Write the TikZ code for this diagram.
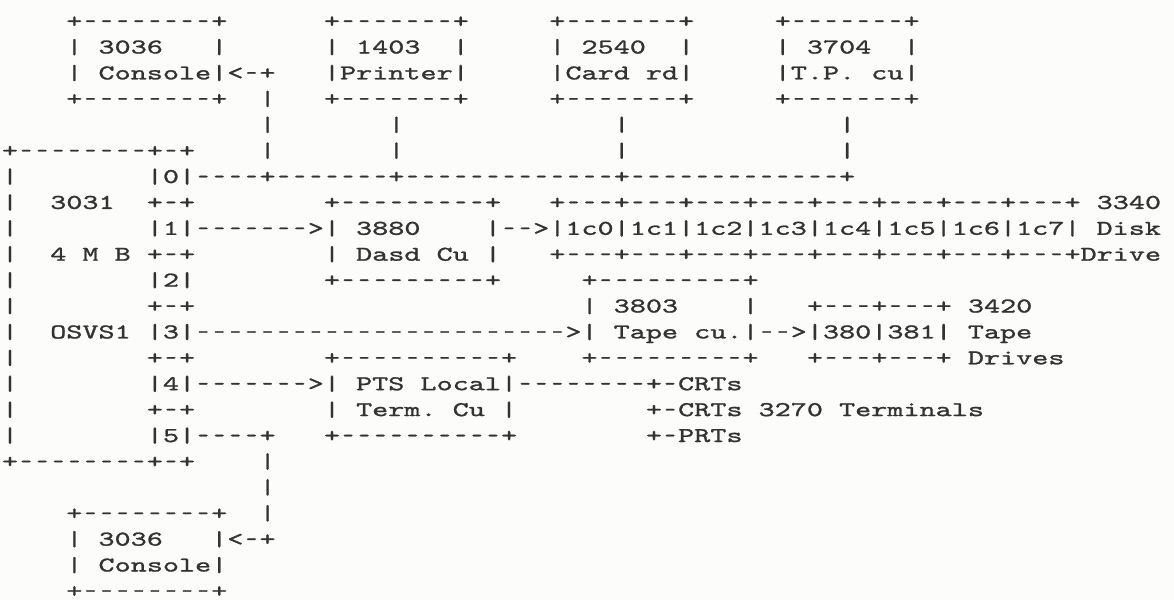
\documentclass[tikz,border=0pt]{standalone}
\usepackage{fontspec}
\newfontfamily\asciifont{lmmono10-regular.otf}[Ligatures=TeXOff,FakeStretch=1.46,FakeBold=1.2]
\newfontfamily\dashfont{lmmono10-regular.otf}[Ligatures=TeXOff,FakeBold=1.2]
\newcommand\dcell{\makebox[16.1pt][c]{\dashfont-}}
\ExplSyntaxOn
\cs_new:Npn \D #1 { \prg_replicate:nn {#1} { \dcell } }
\ExplSyntaxOff
\definecolor{ink}{HTML}{333333}
\definecolor{paper}{HTML}{FCFCFA}
\tikzset{asc/.style={anchor=base west, inner sep=0pt, outer sep=0pt, text=ink,
  font=\fontsize{21}{25}\selectfont\asciifont, yshift=-6.6pt}}
\newcommand\asc[4]{\node[asc] (#1) at ({#3-0.5},#2) {#4};}
\begin{document}
\begin{tikzpicture}
\fill[paper] (0pt,0pt) rectangle (1174pt,-600pt);
\useasboundingbox (0pt,0pt) rectangle (1174pt,-600pt);
\begin{scope}[shift={(10pt,-21pt)}, x=16.1pt, y=-25.9pt]
% row 0
\asc{cAa}{0}{4}{+\D{8}+}
\asc{pAa}{0}{20}{+\D{7}+}
\asc{kAa}{0}{34}{+\D{7}+}
\asc{tAa}{0}{48}{+\D{7}+}
% row 1
\asc{cAb}{1}{4}{|~3036~~~|}
\asc{pAb}{1}{20}{|~1403~~|}
\asc{kAb}{1}{34}{|~2540~~|}
\asc{tAb}{1}{48}{|~3704~~|}
% row 2
\asc{cAc}{2}{4}{|~Console|<\D{1}+}
\asc{pAc}{2}{20}{|Printer|}
\asc{kAc}{2}{34}{|Card~rd|}
\asc{tAc}{2}{48}{|T.P.~cu|}
% row 3
\asc{cAd}{3}{4}{+\D{8}+}
\asc{vAd}{3}{16}{|}
\asc{pAd}{3}{20}{+\D{7}+}
\asc{kAd}{3}{34}{+\D{7}+}
\asc{tAd}{3}{48}{+\D{7}+}
% row 4
\asc{vAe}{4}{16}{|}
\asc{pAe}{4}{24}{|}
\asc{kAe}{4}{38}{|}
\asc{tAe}{4}{52}{|}
% row 5
\asc{mAf}{5}{0}{+\D{8}+\D{1}+}
\asc{vAf}{5}{16}{|}
\asc{pAf}{5}{24}{|}
\asc{kAf}{5}{38}{|}
\asc{tAf}{5}{52}{|}
% row 6
\asc{lAg}{6}{0}{|}
\asc{mAg}{6}{9}{|0|\D{4}+\D{7}+\D{13}+\D{13}+}
% row 7
\asc{lAh}{7}{0}{|}
\asc{nAh}{7}{3}{3031}
\asc{mAh}{7}{9}{+\D{1}+}
\asc{dAh}{7}{20}{+\D{9}+}
\asc{sAh}{7}{34}{+\D{3}+\D{3}+\D{3}+\D{3}+\D{3}+\D{3}+\D{3}+\D{3}+~3340}
% row 8
\asc{lAi}{8}{0}{|}
\asc{mAi}{8}{9}{|1|\D{7}>|~3880~~~~|\D{2}>|1c0|1c1|1c2|1c3|1c4|1c5|1c6|1c7|~Disk}
% row 9
\asc{lAj}{9}{0}{|}
\asc{nAj}{9}{3}{4~M~B}
\asc{mAj}{9}{9}{+\D{1}+}
\asc{dAj}{9}{20}{|~Dasd~Cu~|}
\asc{sAj}{9}{34}{+\D{3}+\D{3}+\D{3}+\D{3}+\D{3}+\D{3}+\D{3}+\D{3}+Drive}
% row 10
\asc{lAk}{10}{0}{|}
\asc{mAk}{10}{9}{|2|}
\asc{dAk}{10}{20}{+\D{9}+}
\asc{gAk}{10}{36}{+\D{9}+}
% row 11
\asc{lAl}{11}{0}{|}
\asc{mAl}{11}{9}{+\D{1}+}
\asc{gAl}{11}{36}{|~3803~~~~|}
\asc{hAl}{11}{50}{+\D{3}+\D{3}+~3420}
% row 12
\asc{lAm}{12}{0}{|}
\asc{nAm}{12}{3}{OSVS1}
\asc{mAm}{12}{9}{|3|\D{23}>|~Tape~cu.|\D{2}>|380|381|~Tape}
% row 13
\asc{lAn}{13}{0}{|}
\asc{mAn}{13}{9}{+\D{1}+}
\asc{qAn}{13}{20}{+\D{10}+}
\asc{gAn}{13}{36}{+\D{9}+}
\asc{hAn}{13}{50}{+\D{3}+\D{3}+~Drives}
% row 14
\asc{lAo}{14}{0}{|}
\asc{mAo}{14}{9}{|4|\D{7}>|~PTS~Local|\D{8}+\D{1}CRTs}
% row 15
\asc{lAp}{15}{0}{|}
\asc{mAp}{15}{9}{+\D{1}+}
\asc{qAp}{15}{20}{|~Term.~Cu~|}
\asc{rAp}{15}{40}{+\D{1}CRTs~3270~Terminals}
% row 16
\asc{lAq}{16}{0}{|}
\asc{mAq}{16}{9}{|5|\D{4}+}
\asc{qAq}{16}{20}{+\D{10}+}
\asc{rAq}{16}{40}{+\D{1}PRTs}
% row 17
\asc{mAr}{17}{0}{+\D{8}+\D{1}+}
\asc{vAr}{17}{16}{|}
% row 18
\asc{vAs}{18}{16}{|}
% row 19
\asc{cAt}{19}{4}{+\D{8}+}
\asc{vAt}{19}{16}{|}
% row 20
\asc{cAu}{20}{4}{|~3036~~~|<\D{1}+}
% row 21
\asc{cAv}{21}{4}{|~Console|}
% row 22
\asc{cAw}{22}{4}{+\D{8}+}
\end{scope}
\end{tikzpicture}
\end{document}
